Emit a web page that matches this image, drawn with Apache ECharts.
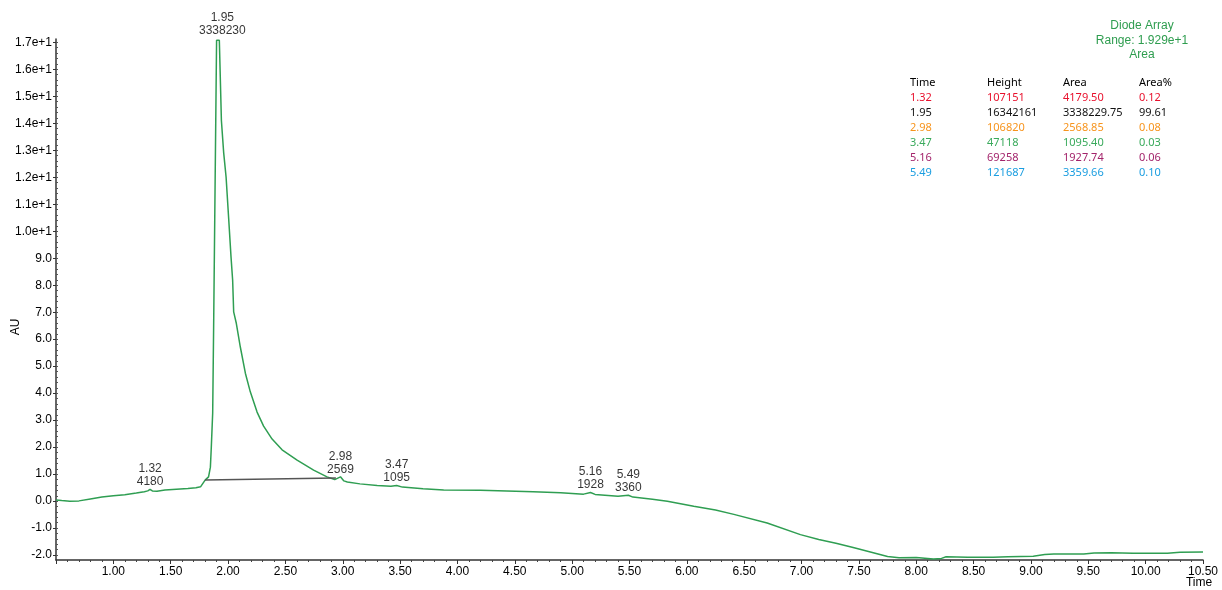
<!DOCTYPE html>
<html>
<head>
<meta charset="utf-8">
<title>Diode Array chromatogram</title>
<script src="https://cdn.jsdelivr.net/npm/echarts@6/dist/echarts.min.js"></script>
<style>
  html, body { margin: 0; padding: 0; background: #fff; }
  #chart { width: 1222px; height: 590px; }
</style>
</head>
<body>
<div id="chart"></div>
<script>
// Diode Array trace: retention time (min) and absorbance (AU)
const TIME = [0.50, 0.55, 0.62, 0.70, 0.80, 0.90, 1.00, 1.10, 1.20, 1.27, 1.30, 1.32, 1.34, 1.38, 1.45,
  1.55, 1.65, 1.72, 1.76, 1.80, 1.83, 1.846, 1.854, 1.866, 1.874, 1.900, 1.924, 1.942, 1.962, 1.983,
  2.005, 2.026, 2.040, 2.049, 2.072, 2.107, 2.151, 2.194, 2.253, 2.310, 2.384, 2.471, 2.602, 2.746,
  2.863, 2.93, 2.98, 3.01, 3.04, 3.15, 3.30, 3.42, 3.47, 3.52, 3.70, 3.88, 4.20, 4.66, 4.90, 5.10,
  5.16, 5.20, 5.40, 5.49, 5.53, 5.70, 5.83, 6.06, 6.25, 6.41, 6.70, 6.99, 7.15, 7.30, 7.45, 7.60,
  7.75, 7.85, 8.00, 8.15, 8.22, 8.26, 8.45, 8.67, 8.80, 9.02, 9.12, 9.20, 9.46, 9.55, 9.70, 9.89,
  10.19, 10.30, 10.50];
const AU = [0.04, 0.02, 0.00, 0.01, 0.08, 0.15, 0.20, 0.24, 0.30, 0.35, 0.38, 0.44, 0.38, 0.37, 0.41,
  0.44, 0.47, 0.50, 0.53, 0.78, 0.90, 1.26, 2.00, 3.26, 6.33, 17.07, 17.07, 14.10, 12.90, 12.00,
  10.50, 9.04, 8.19, 7.01, 6.59, 5.71, 4.74, 4.05, 3.30, 2.78, 2.30, 1.90, 1.52, 1.15,
  0.90, 0.80, 0.90, 0.75, 0.71, 0.64, 0.58, 0.55, 0.58, 0.52, 0.46, 0.41, 0.40, 0.35, 0.31, 0.26,
  0.32, 0.25, 0.18, 0.22, 0.15, 0.07, 0.00, -0.19, -0.33, -0.49, -0.81, -1.24, -1.42, -1.56, -1.72, -1.88,
  -2.05, -2.10, -2.09, -2.14, -2.12, -2.06, -2.08, -2.08, -2.06, -2.04, -1.98, -1.96, -1.96, -1.92, -1.91, -1.93,
  -1.93, -1.89, -1.88];

// Integrated peaks
const PEAK_TIME = [1.32, 1.95, 2.98, 3.47, 5.16, 5.49];
const PEAK_APEX = [0.44, 17.07, 0.90, 0.58, 0.32, 0.22];
const PEAK_HEIGHT = [107151, 16342161, 106820, 47118, 69258, 121687];
const PEAK_AREA = ['4179.50', '3338229.75', '2568.85', '1095.40', '1927.74', '3359.66'];
const PEAK_AREA_PCT = ['0.12', '99.61', '0.08', '0.03', '0.06', '0.10'];
const PEAK_COLORS = ['#e8112d', '#111111', '#f7941d', '#3aaa5c', '#a3246b', '#1a9de0'];

// Drop baseline of the main peak
const BASE_START = [1.80, 0.78];
const BASE_END = [2.94, 0.86];

// Axis ticks
const Y_TICKS = [-2, -1, 0, 1, 2, 3, 4, 5, 6, 7, 8, 9, 10, 11, 12, 13, 14, 15, 16, 17];
const Y_MIN = -2.18, Y_MAX = 17.12;
const X_MIN = 0.5, X_MAX = 10.5, X_STEP = 0.5;

const TABLE_HEAD = ['Time', 'Height', 'Area', 'Area%'];
const HEADER_LINES = ['Diode Array', 'Range: 1.929e+1', 'Area'];

const yMinorTicks = [];
for (let v = -2; v <= 17.001; v += 0.2) yMinorTicks.push(Math.round(v * 10) / 10);

const FONT = '"Liberation Sans", Arial, sans-serif';
const TABLE_FONT = '"Noto Sans", "Open Sans", sans-serif';

const trace = TIME.map((t, i) => [t, AU[i]]);
const peaks = PEAK_TIME.map((t, i) => ({
  value: [t, PEAK_APEX[i]],
  label: { distance: i === 1 ? 3 : 1 }
}));

// Peak table and detector header on the right-hand side
const tableCols = [910, 987, 1063, 1139];
const graphics = [];
HEADER_LINES.forEach((s, i) => {
  graphics.push({
    type: 'text', x: 1142, y: 26 + i * 14.5,
    style: { text: s, fill: '#2e9d4f', font: '12px ' + FONT, textAlign: 'center', textVerticalAlign: 'middle' }
  });
});
TABLE_HEAD.forEach((s, c) => {
  graphics.push({
    type: 'text', x: tableCols[c], y: 82.5,
    style: { text: s, fill: '#000', font: '11px ' + TABLE_FONT, textAlign: 'left', textVerticalAlign: 'middle' }
  });
});
PEAK_TIME.forEach((t, r) => {
  const row = [t.toFixed(2), String(PEAK_HEIGHT[r]), PEAK_AREA[r], PEAK_AREA_PCT[r]];
  row.forEach((s, c) => {
    graphics.push({
      type: 'text', x: tableCols[c], y: 97.5 + r * 15,
      style: { text: s, fill: PEAK_COLORS[r], font: '11px ' + TABLE_FONT, textAlign: 'left', textVerticalAlign: 'middle' }
    });
  });
});
graphics.push({
  type: 'text', x: 16, y: 327, rotation: Math.PI / 2,
  style: { text: 'AU', fill: '#000', font: '12px ' + FONT, textAlign: 'center', textVerticalAlign: 'middle' }
});
graphics.push({
  type: 'text', x: 1199, y: 583,
  style: { text: 'Time', fill: '#000', font: '12px ' + FONT, textAlign: 'center', textVerticalAlign: 'middle' }
});

const chart = echarts.init(document.getElementById('chart'), null, { renderer: 'canvas' });
chart.setOption({
  animation: false,
  backgroundColor: '#ffffff',
  grid: { left: 56, right: 19, top: 39, bottom: 30, containLabel: false },
  xAxis: {
    type: 'value', min: X_MIN, max: X_MAX, interval: X_STEP,
    splitLine: { show: false },
    axisLine: { show: true, onZero: false, lineStyle: { color: '#333', width: 1.5 } },
    axisTick: { show: true, length: 4, lineStyle: { color: '#333' } },
    minorTick: { show: true, splitNumber: 5, length: 2, lineStyle: { color: '#444' } },
    axisLabel: {
      color: '#000', fontFamily: FONT, fontSize: 12, margin: 6,
      showMinLabel: false,
      formatter: v => (Math.abs(v - X_MIN) < 1e-9 ? '' : v.toFixed(2))
    }
  },
  yAxis: [{
    type: 'value', min: Y_MIN, max: Y_MAX,
    splitLine: { show: false },
    axisLine: { show: true, onZero: false, lineStyle: { color: '#333', width: 1.5 } },
    axisTick: { show: true, length: 3, customValues: Y_TICKS, lineStyle: { color: '#333' } },
    axisLabel: {
      color: '#000', fontFamily: FONT, fontSize: 12, margin: 4,
      customValues: Y_TICKS,
      formatter: v => (v >= 10 ? (v / 10).toFixed(1) + 'e+1' : v.toFixed(1))
    }
  }, {
    type: 'value', min: Y_MIN, max: Y_MAX, position: 'left',
    splitLine: { show: false },
    axisLine: { show: false },
    axisTick: { show: true, inside: true, length: 2, customValues: yMinorTicks, lineStyle: { color: '#555' } },
    axisLabel: { show: false }
  }],
  series: [{
    type: 'line',
    data: trace,
    showSymbol: false,
    smooth: false,
    lineStyle: { color: '#2f9e52', width: 1.5 },
    z: 3,
    markLine: {
      silent: true,
      symbol: 'none',
      label: { show: false },
      lineStyle: { color: '#555', width: 1.5, type: 'solid' },
      data: [[{ coord: BASE_START }, { coord: BASE_END }]]
    }
  }, {
    type: 'scatter',
    data: peaks,
    symbolSize: 0,
    silent: true,
    z: 4,
    label: {
      show: true,
      position: 'top',
      color: '#000',
      fontFamily: FONT,
      fontSize: 12,
      lineHeight: 13,
      align: 'center',
      formatter: p => {
        const i = p.dataIndex;
        return PEAK_TIME[i].toFixed(2) + '\n' + Math.round(parseFloat(PEAK_AREA[i]));
      }
    }
  }],
  graphic: graphics
});
</script>
</body>
</html>
